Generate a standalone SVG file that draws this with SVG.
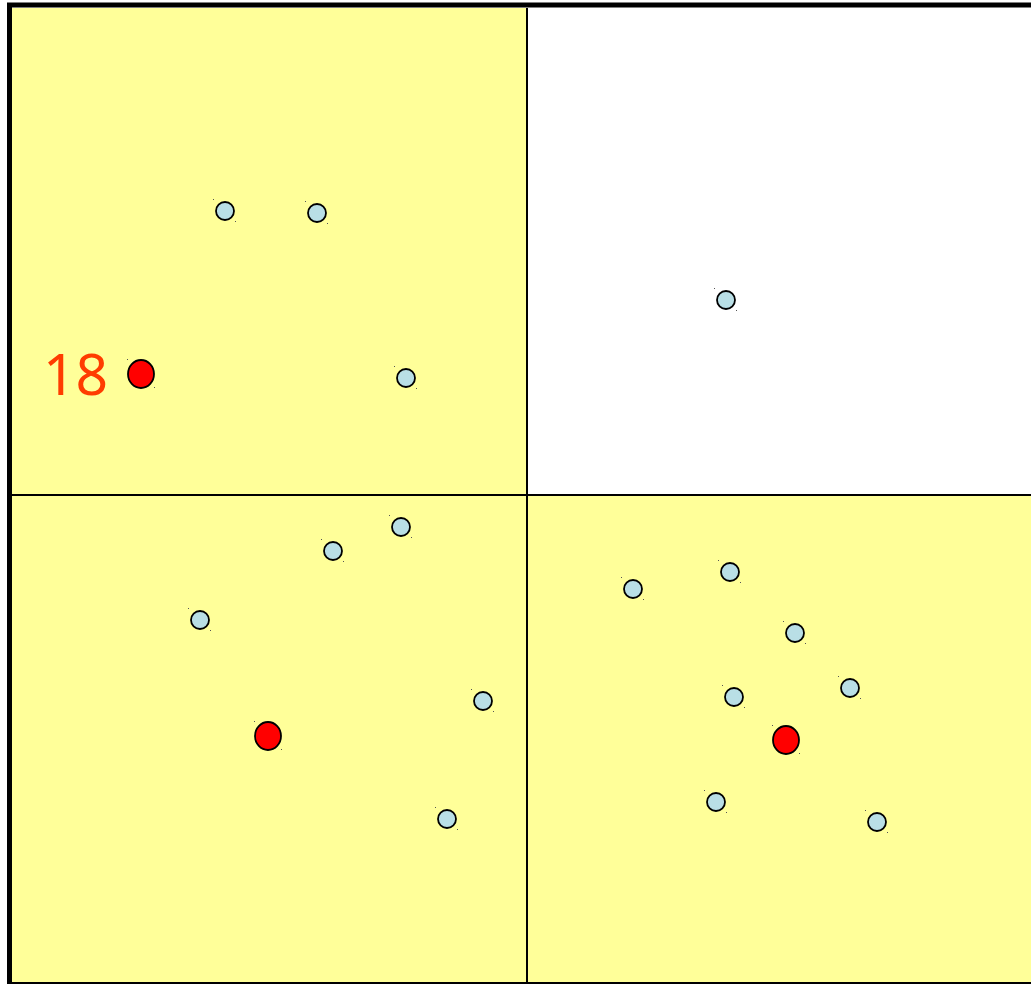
<svg xmlns="http://www.w3.org/2000/svg" width="1031" height="984" viewBox="0 0 1031 984">
<style>
.q{fill:#ffff99}
.ln{stroke:#000;stroke-width:2;fill:none}
.p{fill:#b9dfe6;stroke:#000;stroke-width:1.8}
.c{fill:#ff0000;stroke:#000;stroke-width:1.8}
.h{fill:#555}
.lbl{font-family:"Noto Sans",sans-serif;font-size:57px;fill:#ff3c00}
</style>
<defs>
<g id="pt"><circle class="p" r="9"/><rect class="h" x="-12" y="-12" width="1" height="1"/><rect class="h" x="10" y="10" width="1" height="1"/></g>
<g id="ct"><ellipse class="c" rx="13" ry="14"/><rect class="h" x="-14" y="-15" width="1" height="1"/><rect class="h" x="13" y="13" width="1" height="1"/></g>
</defs>
<rect width="1031" height="984" fill="#fff"/>
<g id="quadrants">
<rect class="q" x="12" y="8" width="515" height="487"/>
<rect class="q" x="12" y="495" width="515" height="488"/>
<rect class="q" x="527" y="495" width="504" height="488"/>
</g>
<g id="grid">
<line class="ln" x1="527" y1="8" x2="527" y2="984"/>
<line class="ln" x1="12" y1="495" x2="1031" y2="495"/>
<line class="ln" x1="12" y1="983" x2="1031" y2="983"/>
<line stroke="#000" stroke-width="5" x1="9.5" y1="5" x2="9.5" y2="984"/>
<line stroke="#000" stroke-width="5" x1="7" y1="5" x2="1031" y2="5"/>
</g>
<g id="label"><text class="lbl" x="43" y="395">18</text></g>
<g id="points-tl">
<use href="#pt" x="225" y="211"/>
<use href="#pt" x="317" y="213"/>
<use href="#pt" x="406" y="378"/>
<use href="#ct" x="141" y="374"/>
</g>
<g id="points-tr">
<use href="#pt" x="726" y="300"/>
</g>
<g id="points-bl">
<use href="#pt" x="401" y="527"/>
<use href="#pt" x="333" y="551"/>
<use href="#pt" x="200" y="620"/>
<use href="#pt" x="483" y="701"/>
<use href="#pt" x="447" y="819"/>
<use href="#ct" x="268" y="736"/>
</g>
<g id="points-br">
<use href="#pt" x="633" y="589"/>
<use href="#pt" x="730" y="572"/>
<use href="#pt" x="795" y="633"/>
<use href="#pt" x="850" y="688"/>
<use href="#pt" x="734" y="697"/>
<use href="#pt" x="716" y="802"/>
<use href="#pt" x="877" y="822"/>
<use href="#ct" x="786" y="740"/>
</g>
</svg>
